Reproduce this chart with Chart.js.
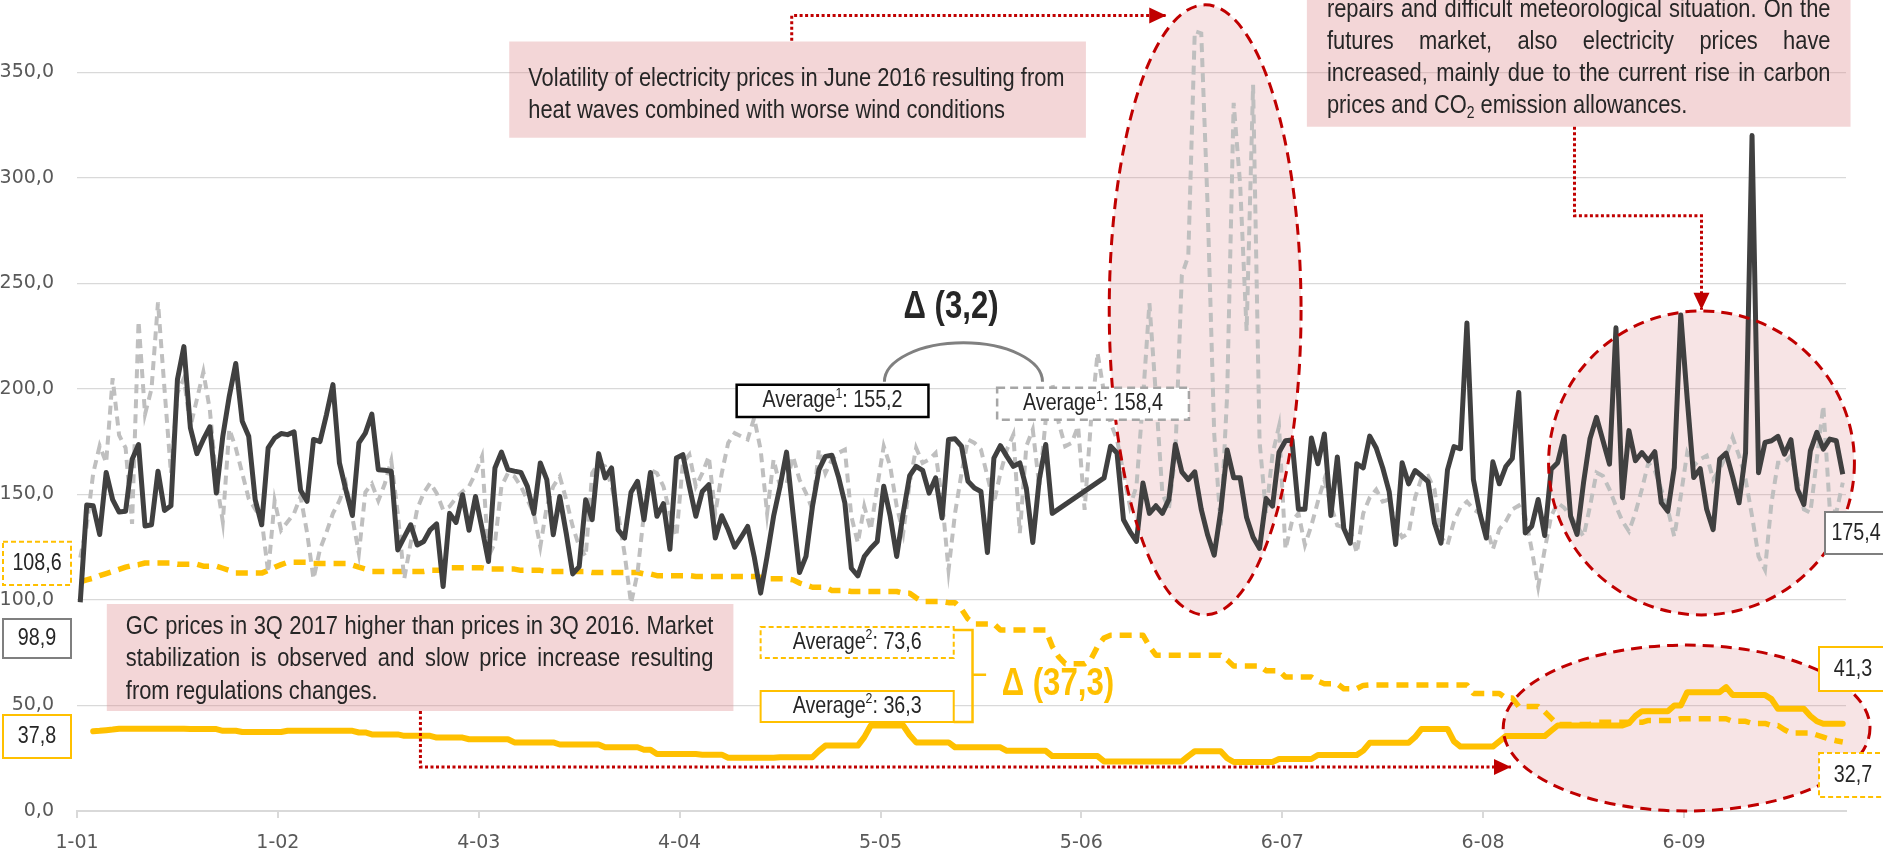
<!DOCTYPE html>
<html>
<head>
<meta charset="utf-8">
<script src="https://cdn.jsdelivr.net/npm/chart.js@4.4.1/dist/chart.umd.min.js"></script>
<style>
  html, body { margin: 0; padding: 0; background: #fff; }
  canvas { display: block; }
</style>
</head>
<body>
<canvas id="chart" width="1883" height="865"></canvas>
<script>
// daily electricity prices, 1 Jan - 30 Sep (index = day of year - 1)
const price2017 = [
  98.9, 145, 144.6, 131, 160.4, 147.5, 141.6, 142, 166.5, 173.6,
  135, 135.6, 161, 142.4, 144.6, 204.4, 220, 181.5, 169.3, 176,
  182, 150.6, 177.5, 196.5, 212, 184.6, 177.5, 147.5, 135.6, 172,
  176.7, 178.8, 178.3, 179.6, 152, 146.7, 176, 175, 187.8, 202,
  164.9, 152, 140, 174.4, 179, 188, 161.7, 161.4, 161, 123.7,
  129.7, 135.6, 126, 127.7, 133.2, 136, 106.3, 141, 136.7, 149.8,
  133, 149, 134, 118.2, 162.5, 170, 161.7, 161, 160.4, 153.8,
  141, 164.9, 157, 130.9, 149, 131.6, 112.3, 115.8, 147.5, 138,
  169.3, 157.8, 162.5, 133.2, 129.3, 151, 156.2, 138, 160.4, 139.6,
  145.6, 124, 167.2, 168.8, 153.8, 139.6, 151.4, 154.6, 129.3, 139.9,
  133.2, 125, 129.7, 134.8, 120.6, 103.2, 120.6, 139.6, 153.8, 170,
  141, 113, 120.6, 144.3, 161.7, 168, 168.5, 158.5, 145.9, 115,
  111.4, 120.6, 124.5, 127.7, 153.8, 139.6, 120.6, 141, 158.9, 163.3,
  161.4, 150.6, 157.8, 138.8, 176, 176.3, 172.8, 156.2, 153, 151.4,
  122.5, 167.2, 173.1, 168, 163.3, 164.9, 153, 127.2, 157, 173.6,
  141, null, null, null, null, null, null, null, 157.8, 172.8,
  169.6, 138, 132.4, 127.7, 155.4, 141, 144.6, 141, 147.5, 173.6,
  160.7, 157, 160.7, 142.9, 130.6, 121.2, 142, 171, 157.9, 157.9,
  139, 129.7, 124.4, 148, 144.4, 170, 175.4, 175.8, 142.9, 142.9,
  176.7, 164.5, 178.6, 140, 167.7, 133.8, 126.9, 164.5, 162.6, 177.6,
  172, 162.6, 151.3, 126.3, 165, 155, 161.3, 158.8, 156, 136.3,
  126.9, 161.6, 172.6, 171.6, 231.2, 157, 141, 129.3, 165.4, 155,
  163.2, 167, 198.3, 131.7, 134.9, 147.6, 130.5, 161.9, 165, 177.5,
  139.7, 131, 155.6, 176.5, 186.5, 175.4, 164.3, 228.9, 148.4, 180.2,
  165.9, 169.8, 165.9, 170.2, 146, 142, 162.7, 235, 195.2, 158,
  162.2, 142.9, 133.3, 166.7, 169.5, 158.4, 146, 169.8, 320, 160.3,
  174.6, 175.4, 177.5, 169, 175.9, 152.4, 145.2, 170.6, 179.4, 171.4,
  176.2, 175.4, 159.5
];
const price2016 = [
  120, 135, 160, 173, 165, 205, 178, 172, 136, 232,
  188, 200, 241, 200, 160, 198, 205, 182, 195, 208,
  190, 157, 137, 181, 172, 160, 148, 143, 138, 113,
  147, 133, 137, 141, 149, 132, 110, 124, 132, 141,
  147, 155, 139, 122, 151, 155, 147, 155, 166, 141,
  110, 127, 143, 150.6, 155.4, 150.6, 142.7, 144.3, 148.3, 151.4,
  153.8, 160, 168, 120.6, 127, 153.8, 160, 158.5, 153.8, 147.5,
  141, 125.3, 144.3, 153.8, 158.5, 147.5, 134.8, 125.3, 120.6, 160,
  164.9, 163.3, 153.8, 141, 122, 98.4, 112.7, 141, 161.7, 160,
  153.8, 141, 130, 164.9, 168.8, 153.8, 160, 168, 141, 160,
  174.4, 179, 177.5, 176, 186.2, 171.2, 141, 166.5, 153.8, 155,
  168, 157, 150.6, 142.7, 171.2, 160, 166.5, 169.6, 171.2, 139.6,
  127, 144.3, 133.2, 153.8, 172.8, 163.3, 144.3, 131.6, 155.4, 172,
  164.9, 166.5, 169.6, 147.5, 114.2, 141, 160, 176, 174.4, 171.2,
  158.5, 145.9, 160, 171.2, 178.3, 131.6, 172.8, 180.7, 153.8, 185.4,
  202.8, 183.9, 172.8, 174.4, 182.3, 142.7, 185.4, 217, 198, 183.9,
  176, 160, 144.3, 153.8, 195, 240.6, 197, 150.4, 142.9, 169,
  253.8, 263, 369.4, 368.4, 285, 178.6, 135.3, 197.4, 335.5, 297,
  227.4, 344, 175, 141, 169, 182.3, 124, 137.2, 141, 126,
  135.3, 146.6, 157, 144.7, 135.3, 134.4, 133.5, 122.2, 141, 148.5,
  152.3, 146.6, 147.6, 135.3, 129.7, 131.6, 148.5, 157.9, 158.8, 152.3,
  129.7, 126, 137.2, 143.8, 146.6, 142.9, 141, 135.3, 124, 133.5,
  137.2, 142.9, 144.7, 139.7, 123.8, 106.3, 123.8, 139.7, 146, 143.7,
  139.7, 135, 130, 144.4, 160.3, 158.7, 152.4, 144.4, 137.3, 132.5,
  141.3, 152.4, 165, 161.1, 152.4, 142.9, 130, 149.2, 169.8, 163.5,
  166.7, 168.3, 157.1, 161.9, 168.3, 177, 168.3, 157.1, 139.7, 120.6,
  114.3, 146, 165, 165, 168.3, 157.1, 142.9, 141.3, 166.7, 192,
  142.9, 141.3, 155.6
];
// green certificate (GC) prices
const gc2017 = [
  null, null, 37.8, 38.0, 38.3, 38.6, 39, 39, 39, 39,
  39, 39, 39, 39, 39, 39, 39, 38.8, 38.8, 38.8,
  38.8, 38.8, 38, 38, 38, 37.4, 37.4, 37.4, 37.4, 37.4,
  37.4, 37.4, 38, 38, 38, 38, 38, 38, 38, 38,
  38, 38, 38, 37.2, 37.2, 36.3, 36.3, 36.3, 36.3, 36.3,
  35.6, 35.6, 35.6, 35.6, 35.6, 34.8, 34.8, 34.8, 34.8, 34.8,
  34, 34, 34, 34, 34, 34, 34, 32.5, 32.5, 32.5,
  32.5, 32.5, 32.5, 32.5, 31.5, 31.5, 31.5, 31.5, 31.5, 31.5,
  31.5, 30.2, 30.2, 30.2, 30.2, 30.2, 30.2, 29, 29, 27,
  27, 27, 27, 27, 27, 27, 26.7, 26.7, 26.7, 26.7,
  25.2, 25.2, 25.2, 25.2, 25.2, 25.2, 25.2, 25.2, 25.5, 25.5,
  25.5, 25.5, 25.5, 25.5, 28.5, 31, 31, 31, 31, 31,
  31, 35, 40.5, 40.5, 40.5, 40.5, 40.5, 40.5, 36, 32.5,
  32.5, 32.5, 32.5, 32.5, 32.5, 30.2, 30.2, 30.2, 30.2, 30.2,
  30.2, 30.2, 30.2, 28.5, 28.5, 28.5, 28.5, 28.5, 28.5, 28.5,
  26, 26, 26, 26, 26, 26, 26, 26, 23.5, 23.5,
  23.5, 23.5, 23.5, 23.5, 23.5, 23.5, 23.5, 23.5, 23.5, 23.5,
  23.5, 26, 28.3, 28.3, 28.3, 28.3, 28.3, 25, 23.2, 23.2,
  23.2, 23.2, 23.2, 23.2, 23.2, 24.6, 24.6, 24.6, 24.6, 24.6,
  24.6, 26.5, 26.5, 26.5, 26.5, 26.5, 26.5, 26.5, 28.6, 32.3,
  32.3, 32.3, 32.3, 32.3, 32.3, 32.3, 35, 38.9, 38.9, 38.9,
  38.9, 38.9, 33, 30.5, 30.5, 30.5, 30.5, 30.5, 30.5, 33,
  35.5, 35.5, 35.5, 35.5, 35.5, 35.5, 35.5, 38, 40.5, 40.5,
  40.5, 40.5, 40.5, 40.5, 40.5, 40.5, 40.5, 40.5, 40.5, 41.6,
  45, 47.3, 47.3, 47.3, 47.3, 47.3, 50, 50, 56.3, 56.3,
  56.3, 56.3, 56.3, 56.3, 58.7, 55, 55, 55, 55, 55,
  55, 53, 48.4, 48.4, 48.4, 48.4, 48.4, 45, 42.5, 41.3,
  41.3, 41.3, 41.3
];
const gc2016 = [
  108.6, 109.5, 110.3, 111.5, 112.5, 113.5, 114.5, 115.5, 116.3, 116.7,
  117.5, 117.5, 117.5, 117.5, 117.5, 116.9, 116.9, 116.9, 116.9, 116,
  116, 116, 115, 114, 112.7, 112.7, 112.7, 112.7, 112.7, 114,
  115.5, 116.7, 117.8, 117.8, 117.8, 117.8, 117.3, 117.3, 117.3, 117.3,
  117.3, 117.3, 116.5, 115.5, 114.6, 113.5, 113.5, 113.5, 113.5, 113.5,
  113.5, 113.5, 113.5, 113.5, 114, 114, 114, 115.2, 115.2, 115.2,
  115.2, 115.2, 115.2, 114.6, 114.6, 114.6, 114.6, 114.6, 114, 114,
  114, 114, 113.5, 113.5, 113.5, 113.5, 113.5, 113.5, 113.5, 113,
  113, 113, 113, 113, 113, 113, 113, 112.3, 112.3, 111.5,
  111.5, 111.5, 111.5, 111.5, 111.5, 111.1, 111.1, 111.1, 111.1, 111.1,
  111.1, 111.1, 111.1, 111.1, 111.1, 110.8, 110, 110, 110, 110,
  109.5, 108, 107, 106, 106, 106, 104.5, 104.5, 104.5, 104,
  104, 104, 104, 104, 104, 104, 104, 103.2, 103.2, 101,
  99.2, 99.2, 99.2, 99.2, 98.7, 98.7, 95.6, 91, 88.6, 88.6,
  88.6, 88.6, 85.7, 85.7, 85.7, 85.7, 85.7, 85.7, 85.7, 85.7,
  78, 73, 69.8, 69.8, 69.8, 69.8, 72, 78, 82, 83.3,
  83.3, 83.3, 83.3, 83.3, 83.3, 78, 73.8, 73.8, 73.8, 73.8,
  73.8, 73.8, 73.8, 73.8, 73.8, 73.8, 73.8, 71.5, 68.7, 68.7,
  68.7, 68.7, 68.7, 66.5, 66.5, 66.5, 63.5, 63.5, 63.5, 63.5,
  63.5, 61.5, 60.3, 60.3, 60.3, 57.9, 57.9, 57.9, 59.5, 59.7,
  59.7, 59.7, 59.7, 59.7, 59.7, 59.7, 59.7, 59.7, 59.7, 59.7,
  59.7, 59.7, 59.7, 59.7, 59.7, 55.7, 55.7, 55.7, 55.7, 55.7,
  53.5, 53.5, 49.5, 49.5, 49.5, 49.5, 47, 44, 41, 41,
  41, 41, 41, 41, 42, 42, 42, 42, 42, 42,
  42, 42, 42.9, 42.9, 42.9, 42.9, 42.9, 43.7, 43.7, 43.7,
  43.7, 43.7, 43.7, 43.7, 43.7, 42.5, 42.5, 42.5, 41.5, 41.5,
  41.5, 40.5, 40.5, 38.5, 37, 37, 37, 37, 36, 35,
  34, 33.3, 32.7
];
const tickLabels = ['1-01', '1-02', '4-03', '4-04', '5-05', '5-06', '6-07', '6-08', '6-09'];
const yTicks = [0, 50, 100, 150, 200, 250, 300, 350];
const days = price2017.map((_, i) => i);

// narrow look: Liberation Sans squeezed horizontally
const FACE = '"Liberation Sans", Arial, sans-serif';
const SX = 0.82;
const RED = '#c00000';
const GOLD = '#ffc000';
const INK = '#262626';
const PINK = 'rgba(221,138,141,0.35)';

// highlighted areas, in day / price units
const ovals = [
  { d: 173.6, v: 237.4, rd: 14.8, rv: 144.5 },
  { d: 250.2, v: 164.9, rd: 23.6, rv: 72 },
  { d: 247.9, v: 39.3, rd: 28.3, rv: 39.3 }
];
const arrows = [
  [[52.5, 47.4], [52.5, 20.9], [220.8, 20.9]],
  [[109.8, 364.9], [109.8, 376.8], [167.6, 376.8]],
  [[230.6, 324.2], [230.6, 282], [250.2, 282], [250.2, 237.5]]
];

function frame(ctx, x0, y0, x1, y1, stroke, dash, fill, lw) {
  ctx.save();
  ctx.beginPath();
  ctx.rect(x0, y0, x1 - x0, y1 - y0);
  if (fill) { ctx.fillStyle = fill; ctx.fill(); }
  if (stroke) {
    ctx.setLineDash(dash || []);
    ctx.lineWidth = lw || 2;
    ctx.strokeStyle = stroke;
    ctx.stroke();
  }
  ctx.restore();
}

function say(ctx, t, x, y, sx) {
  ctx.save();
  ctx.translate(x, y);
  ctx.scale(sx || SX, 1);
  ctx.textAlign = 'left';
  ctx.textBaseline = 'middle';
  ctx.fillText(t, 0, 0);
  ctx.restore();
}

// segments: [text, 'sup' | 'sub' | undefined]
function rich(ctx, segs, x, y, size, align, weight, color) {
  const w = weight || 'normal';
  const fontFor = k => `${w} ${k ? Math.round(size * 0.62) : size}px ${FACE}`;
  let total = 0;
  segs.forEach(([t, k]) => { ctx.font = fontFor(k); total += ctx.measureText(t).width * SX; });
  let cx = align === 'center' ? x - total / 2 : x;
  ctx.fillStyle = color || INK;
  segs.forEach(([t, k]) => {
    ctx.font = fontFor(k);
    const dy = k === 'sup' ? -size * 0.3 : k === 'sub' ? size * 0.3 : 0;
    say(ctx, t, cx, y + dy);
    cx += ctx.measureText(t).width * SX;
  });
}

function justify(ctx, text, left, right, y) {
  const words = text.split(' ');
  const widths = words.map(w => ctx.measureText(w).width * SX);
  const sum = widths.reduce((a, b) => a + b, 0);
  const space = ctx.measureText(' ').width * SX;
  const avail = right - left;
  let k = 1;
  if (sum + space * (words.length - 1) > avail) k = avail / (sum + space * (words.length - 1));
  const gap = (avail - sum * k) / (words.length - 1);
  let x = left;
  words.forEach((w, i) => {
    say(ctx, w, x, y, SX * k);
    x += widths[i] * k + gap;
  });
}

function arrowHead(ctx, x, y, ang) {
  ctx.save();
  ctx.translate(x, y);
  ctx.rotate(ang);
  ctx.beginPath();
  ctx.moveTo(0, 0);
  ctx.lineTo(-17, -8);
  ctx.lineTo(-17, 8);
  ctx.closePath();
  ctx.fillStyle = RED;
  ctx.fill();
  ctx.restore();
}

const NOTE = 26.7;

const notes = {
  id: 'notes',
  beforeDatasetsDraw(chart) {
    const { ctx } = chart;
    const X = d => chart.scales.x.getPixelForValue(d);
    const Y = v => chart.scales.y.getPixelForValue(v);
    ctx.save();
    ovals.forEach(o => {
      const cx = X(o.d), cy = Y(o.v);
      ctx.beginPath();
      ctx.ellipse(cx, cy, X(o.d + o.rd) - cx, cy - Y(o.v + o.rv), 0, 0, Math.PI * 2);
      ctx.fillStyle = 'rgba(221,138,141,0.23)';
      ctx.fill();
    });
    ctx.restore();
  },
  afterDatasetsDraw(chart) {
    const { ctx, chartArea } = chart;
    const X = d => chart.scales.x.getPixelForValue(d);
    const Y = v => chart.scales.y.getPixelForValue(v);
    ctx.save();

    // oval outlines
    ovals.forEach(o => {
      const cx = X(o.d), cy = Y(o.v);
      ctx.beginPath();
      ctx.ellipse(cx, cy, X(o.d + o.rd) - cx, cy - Y(o.v + o.rv), 0, 0, Math.PI * 2);
      ctx.setLineDash([11, 7]);
      ctx.lineWidth = 3;
      ctx.strokeStyle = RED;
      ctx.stroke();
    });
    ctx.setLineDash([]);

    // dotted pointers
    arrows.forEach(pts => {
      ctx.beginPath();
      pts.forEach(([d, v], i) => (i ? ctx.lineTo(X(d), Y(v)) : ctx.moveTo(X(d), Y(v))));
      ctx.setLineDash([3, 2.5]);
      ctx.lineWidth = 3;
      ctx.strokeStyle = RED;
      ctx.stroke();
      ctx.setLineDash([]);
      const [d1, v1] = pts[pts.length - 1], [d0, v0] = pts[pts.length - 2];
      arrowHead(ctx, X(d1), Y(v1), Math.atan2(Y(v1) - Y(v0), X(d1) - X(d0)));
    });

    // pink comment boxes
    let bx0 = X(66.2), bx1 = X(155.2), by0 = Y(364.5), by1 = Y(319);
    frame(ctx, bx0, by0, bx1, by1, null, null, PINK);
    ctx.font = `${NOTE}px ${FACE}`;
    ctx.fillStyle = INK;
    say(ctx, 'Volatility of electricity prices in June 2016 resulting from', bx0 + 19, by0 + 37);
    say(ctx, 'heat waves combined with worse wind conditions', bx0 + 19, by0 + 69);

    bx0 = X(189.3); bx1 = X(273.2); by0 = Y(395); by1 = Y(324.2);
    frame(ctx, bx0, by0, bx1, by1, null, null, PINK);
    ctx.font = `${NOTE}px ${FACE}`;
    ctx.fillStyle = INK;
    justify(ctx, 'repairs and difficult meteorological situation. On the', bx0 + 20, bx1 - 20, by1 - 117);
    justify(ctx, 'futures market, also electricity prices have', bx0 + 20, bx1 - 20, by1 - 85);
    justify(ctx, 'increased, mainly due to the current rise in carbon', bx0 + 20, bx1 - 20, by1 - 53);
    rich(ctx, [['prices and CO'], ['2', 'sub'], [' emission allowances.']], bx0 + 20, by1 - 21, NOTE, 'left');

    bx0 = X(4.1); bx1 = X(100.8); by0 = Y(98.1); by1 = Y(47.4);
    frame(ctx, bx0, by0, bx1, by1, null, null, PINK);
    ctx.font = `${NOTE}px ${FACE}`;
    ctx.fillStyle = INK;
    justify(ctx, 'GC prices in 3Q 2017 higher than prices in 3Q 2016. Market', bx0 + 19, bx1 - 20, by0 + 23);
    justify(ctx, 'stabilization is observed and slow price increase resulting', bx0 + 19, bx1 - 20, by0 + 55);
    say(ctx, 'from regulations changes.', bx0 + 19, by0 + 88);

    // electricity averages
    ctx.beginPath();
    const acx = X(136.3), acy = Y(203.3);
    ctx.ellipse(acx, acy, X(148.5) - acx, acy - Y(221.8), 0, Math.PI, Math.PI * 2);
    ctx.lineWidth = 3;
    ctx.strokeStyle = '#808080';
    ctx.stroke();
    rich(ctx, [['\u0394 (3,2)']], X(134.4), Y(238.4), 38, 'center', 'bold');

    frame(ctx, X(101.3), Y(201.9), X(130.9), Y(186.7), '#000', [], '#fff', 2.5);
    rich(ctx, [['Average'], ['1', 'sup'], [': 155,2']], (X(101.3) + X(130.9)) / 2, Y(194.3), 24, 'center');
    frame(ctx, X(141.5), Y(200.5), X(171.1), Y(185.3), '#a6a6a6', [8, 5], '#fff', 2.5);
    rich(ctx, [['Average'], ['1', 'sup'], [': 158,4']], (X(141.5) + X(171.1)) / 2, Y(192.9), 24, 'center');

    // GC averages
    frame(ctx, X(105), Y(87.2), X(134.8), Y(72.5), GOLD, [5, 3], '#fff', 2);
    rich(ctx, [['Average'], ['2', 'sup'], [': 73,6']], (X(105) + X(134.8)) / 2, Y(79.9), 24, 'center');
    frame(ctx, X(105), Y(56.9), X(134.8), Y(42.2), GOLD, [], '#fff', 2);
    rich(ctx, [['Average'], ['2', 'sup'], [': 36,3']], (X(105) + X(134.8)) / 2, Y(49.6), 24, 'center');
    ctx.beginPath();
    ctx.moveTo(X(134.8), Y(85.8));
    ctx.lineTo(X(137.7), Y(85.8));
    ctx.lineTo(X(137.7), Y(42.2));
    ctx.lineTo(X(134.8), Y(42.2));
    ctx.moveTo(X(137.7), Y(64.5));
    ctx.lineTo(X(139.8), Y(64.5));
    ctx.setLineDash([]);
    ctx.lineWidth = 2.5;
    ctx.strokeStyle = GOLD;
    ctx.stroke();
    rich(ctx, [['\u0394 (37,3)']], X(142.2), Y(59.7), 38, 'left', 'bold', GOLD);

    // first / last values
    const L = chartArea.left, R = chartArea.right;
    const tags = [
      ['108,6', L - 74, L - 6, 127.5, 107.1, GOLD, [5, 3]],
      ['98,9', L - 74, L - 6, 91, 72.5, '#7f7f7f', []],
      ['37,8', L - 74, L - 6, 45.5, 25.1, GOLD, []],
      ['175,4', R - 21, R + 46, 141.7, 121.8, '#7f7f7f', []],
      ['41,3', R - 27, R + 46, 77.7, 56.9, GOLD, []],
      ['32,7', R - 27, R + 46, 27.5, 6.6, GOLD, [5, 3]]
    ];
    tags.forEach(([t, x0, x1, v0, v1, c, dash]) => {
      frame(ctx, x0, Y(v0), x1, Y(v1), c, dash, '#fff', 2);
      const cx = x1 > ctx.canvas.width ? (x0 + ctx.canvas.width) / 2 + 2 : (x0 + x1) / 2;
      rich(ctx, [[t]], cx, (Y(v0) + Y(v1)) / 2, 24, 'center');
    });
    ctx.restore();
  }
};

const tickFont = { family: 'DejaVu Sans', size: 19 };

new Chart(document.getElementById('chart'), {
  type: 'line',
  data: {
    labels: days,
    datasets: [
      { data: price2017, borderColor: '#404040', borderWidth: 5, spanGaps: true, borderJoinStyle: 'round' },
      { data: price2016, borderColor: '#bfbfbf', borderWidth: 4, borderDash: [9, 6], spanGaps: true },
      { data: gc2017, borderColor: GOLD, borderWidth: 6, borderJoinStyle: 'round', borderCapStyle: 'round' },
      { data: gc2016, borderColor: GOLD, borderWidth: 5.5, borderDash: [12, 8], borderJoinStyle: 'round' }
    ]
  },
  options: {
    responsive: false,
    animation: false,
    layout: { padding: { left: 0, right: 37, top: 0, bottom: 0 } },
    elements: { point: { radius: 0 }, line: { tension: 0, fill: false } },
    plugins: { legend: { display: false }, tooltip: { enabled: false } },
    scales: {
      x: {
        type: 'linear',
        min: -0.5,
        max: 272.5,
        afterBuildTicks: s => { s.ticks = tickLabels.map((_, k) => ({ value: -0.5 + 31 * k })); },
        afterFit: s => { s.height = 54; s.paddingLeft = 0; s.paddingRight = 0; },
        ticks: {
          autoSkip: false,
          maxRotation: 0,
          padding: 14,
          color: '#595959',
          font: tickFont,
          callback: (v, i) => tickLabels[i]
        },
        grid: { drawOnChartArea: false, drawTicks: true, tickLength: 7, color: '#d9d9d9', lineWidth: 2 },
        border: { color: '#d9d9d9', width: 2 }
      },
      y: {
        min: 0,
        max: 384.2,
        afterBuildTicks: s => { s.ticks = yTicks.map(v => ({ value: v })); },
        afterFit: s => { s.width = 77; s.paddingTop = 0; s.paddingBottom = 0; },
        ticks: {
          padding: 23,
          color: '#595959',
          font: tickFont,
          callback: v => v.toFixed(1).replace('.', ',')
        },
        grid: { color: '#d9d9d9', lineWidth: 1.3, drawTicks: false },
        border: { display: false }
      }
    }
  },
  plugins: [notes]
});
</script>
</body>
</html>
